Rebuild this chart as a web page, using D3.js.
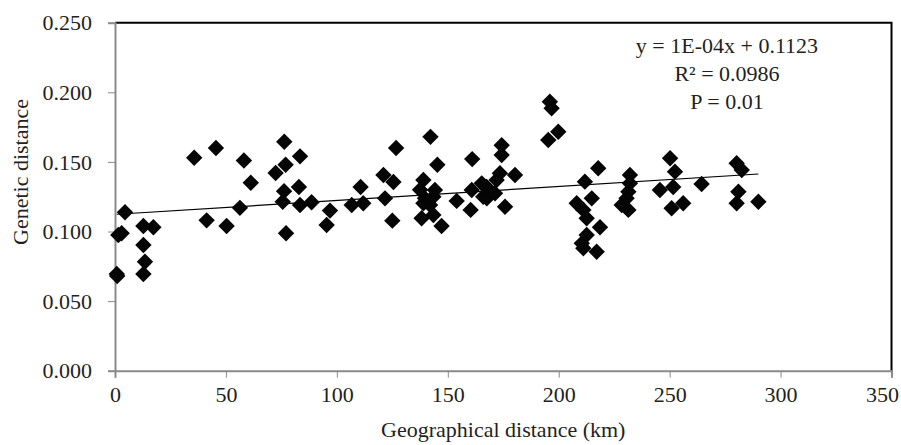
<!DOCTYPE html>
<html>
<head>
<meta charset="utf-8">
<script src="https://cdn.jsdelivr.net/npm/d3@7"></script>
<style>
    body { margin: 0; background: #fff; }
    text { font-family: "Liberation Serif", "DejaVu Serif", serif; fill: #231f20; }
</style>
</head>
<body>
<svg id="chart" width="901" height="445"></svg>
<script>
// data
const geoDist = [
    0.8, 1.0, 1.5, 3.0, 4.5, 12.8, 17.3, 12.8, 13.5, 12.8,
    35.7, 41.3, 45.5, 50.3, 56.3, 58.1, 61.2, 72.4, 75.6, 76.2,
    76.3, 76.9, 77.1, 82.9, 83.4, 83.4, 88.6, 95.4, 96.9, 106.7,
    110.7, 111.9, 121.0, 121.7, 125.0, 125.5, 126.7, 137.5, 138.2, 139.0,
    139.0, 139.7, 142.0, 142.2, 143.5, 143.5, 144.2, 145.3, 147.2, 154.0,
    160.3, 160.8, 161.0, 165.3, 166.0, 167.5, 167.6, 168.3, 171.3, 172.0,
    173.5, 174.3, 174.3, 175.8, 180.3, 195.3, 196.0, 196.8, 199.8, 208.1,
    210.4, 211.1, 211.1, 211.8, 212.6, 212.6, 214.9, 217.1, 217.8, 218.6,
    228.4, 230.6, 231.4, 231.4, 232.1, 232.1, 245.6, 250.2, 250.9, 251.6,
    252.4, 256.1, 264.4, 280.2, 282.5, 281.0, 280.2, 290.0
];
const genDist = [
    0.0695, 0.068, 0.0975, 0.0987, 0.1138, 0.104, 0.103, 0.0903, 0.0783, 0.0695,
    0.153, 0.108, 0.160, 0.104, 0.117, 0.151, 0.135, 0.142, 0.1214, 0.129,
    0.1645, 0.148, 0.0987, 0.132, 0.154, 0.119, 0.121, 0.1047, 0.115, 0.119,
    0.132, 0.1203, 0.1406, 0.1238, 0.1078, 0.1356, 0.160, 0.130, 0.1095, 0.137,
    0.1203, 0.1238, 0.119, 0.168, 0.125, 0.1118, 0.1298, 0.148, 0.104, 0.122,
    0.1155, 0.1298, 0.152, 0.1346, 0.125, 0.132, 0.1238, 0.1298, 0.1274, 0.137,
    0.1418, 0.162, 0.155, 0.1178, 0.1406, 0.1657, 0.1932, 0.1885, 0.1717, 0.1203,
    0.0915, 0.1155, 0.088, 0.1358, 0.1095, 0.0975, 0.1238, 0.0855, 0.1454, 0.103,
    0.119, 0.1238, 0.1286, 0.1155, 0.1346, 0.1406, 0.1298, 0.1526, 0.1167, 0.132,
    0.143, 0.1203, 0.1341, 0.149, 0.1442, 0.1286, 0.1203, 0.1214
];
const xTicks = [0, 50, 100, 150, 200, 250, 300, 350];
const yTicks = [0, 0.05, 0.1, 0.15, 0.2, 0.25];
const trendSlope = 1e-4, trendIntercept = 0.1123;
const statLines = ['y = 1E-04x + 0.1123', 'R\u00B2 = 0.0986', 'P = 0.01'];

// initialize
const
    svg = d3.select('#chart'),
    W = 901,
    plot = { left: 115, right: 891.5, top: 22.7, bottom: 370.7 },
    x = d3.scaleLinear().domain([0, 350]).range([plot.left, plot.right]),
    y = d3.scaleLinear().domain([0, 0.25]).range([plot.bottom, plot.top]),
    axisGrey = '#8a8a8a';

// frame: top and right black
svg.append('path')
    .attr('d', `M${plot.left},${plot.top}H${plot.right}V${plot.bottom}`)
    .attr('fill', 'none')
    .attr('stroke', '#000')
    .attr('stroke-width', 2);

// x axis
const gx = svg.append('g')
    .attr('transform', `translate(0,${plot.bottom})`)
    .call(d3.axisBottom(x).tickValues(xTicks).tickSize(7).tickPadding(9).tickFormat(d3.format('d')));

// y axis
const gy = svg.append('g')
    .attr('transform', `translate(${plot.left},0)`)
    .call(d3.axisLeft(y).tickValues(yTicks).tickSize(7).tickPadding(16).tickFormat(d3.format('.3f')));

[gx, gy].forEach(g => {
    g.select('.domain').attr('stroke', axisGrey).attr('stroke-width', 2);
    g.selectAll('.tick line').attr('stroke', axisGrey).attr('stroke-width', 1);
    g.selectAll('.tick text')
        .attr('font-family', '"Liberation Serif", serif')
        .attr('font-size', 22)
        .attr('fill', '#231f20');
});
gy.selectAll('.tick text').attr('dy', '0.33em');

// keep the last x label inside the picture
gx.selectAll('.tick text').each(function () {
    const b = this.getBBox(),
        tx = +this.parentNode.getAttribute('transform').match(/translate\(([-\d.]+)/)[1];
    if (tx + b.x + b.width > W - 2) {
        d3.select(this).attr('x', W - 2 - tx - b.width / 2);
    }
});

// trend line over the data range
const xMin = d3.min(geoDist), xMax = d3.max(geoDist);
svg.append('line')
    .attr('x1', x(xMin)).attr('y1', y(trendSlope * xMin + trendIntercept))
    .attr('x2', x(xMax)).attr('y2', y(trendSlope * xMax + trendIntercept))
    .attr('stroke', '#000')
    .attr('stroke-width', 1.2);

// diamond markers
const pts = geoDist.map((d, i) => ({ x: d, y: genDist[i] }));
const r = 8.2;
svg.append('g').selectAll('path').data(pts).enter().append('path')
    .attr('d', `M0,${-r}L${r},0L0,${r}L${-r},0Z`)
    .attr('transform', d => `translate(${x(d.x)},${y(d.y)})`)
    .attr('fill', '#050505');

// regression statistics
svg.append('g').selectAll('text').data(statLines).enter().append('text')
    .attr('x', 727)
    .attr('y', (d, i) => 53 + i * 28)
    .attr('text-anchor', 'middle')
    .attr('font-size', 22)
    .text(d => d);

// axis titles
svg.append('text')
    .attr('x', (plot.left + plot.right) / 2)
    .attr('y', 437)
    .attr('text-anchor', 'middle')
    .attr('font-size', 22)
    .text('Geographical distance (km)');

svg.append('text')
    .attr('transform', 'translate(28,245) rotate(-90)')
    .attr('text-anchor', 'start')
    .attr('font-size', 22)
    .text('Genetic distance');
</script>
</body>
</html>
